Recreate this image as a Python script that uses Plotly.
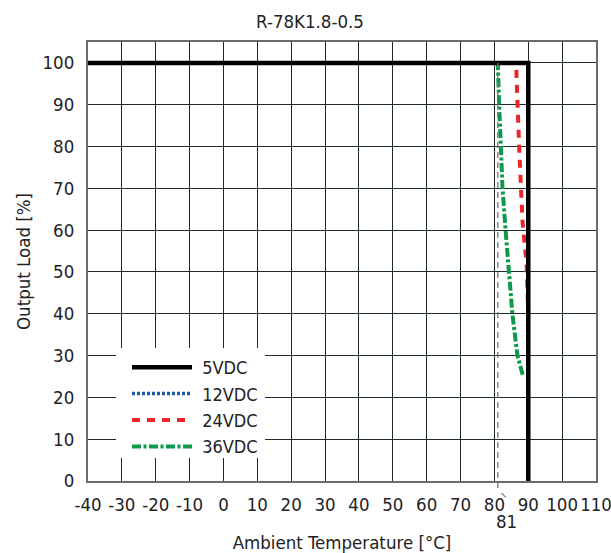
import plotly.graph_objects as go

# data
x_5v = [-40, 90, 90]
y_5v = [100, 100, 0]
x_12v = [-40, 90, 90]
y_12v = [100, 100, 0]
x_24v = [-40, 86.4, 87.3, 88.3, 89.5, 90]
y_24v = [100, 100, 80, 62, 52, 40]
x_36v = [-40, 81.0, 81.4, 81.8, 82.4, 83.3, 84.2, 85.3, 86.8, 88.5]
y_36v = [100, 100, 90, 80, 70, 60, 50, 40, 30, 25]
x_ticks = list(range(-40, 111, 10))
y_ticks = list(range(0, 101, 10))
derating_start = 81

FONT = "Liberation Sans Narrow, DejaVu Sans Condensed, Roboto Condensed, Arial Narrow, Liberation Sans, sans-serif"
GRID = "#1f2b2b"
W, H = 611, 553
L, R, T, B = 88, 15, 42, 72
PW, PH = W - L - R, H - T - B


def px_x(p):
    return (p - L) / PW


def px_y(p):
    return (H - B - p) / PH


fig = go.Figure()
fig.add_trace(go.Scatter(x=x_24v, y=y_24v, mode="lines", name="\u00a024VDC", legendrank=3, legendgroup="c",
                         line=dict(color="#e8262b", width=4, dash="8px,7px")))
fig.add_trace(go.Scatter(x=x_36v, y=y_36v, mode="lines", name="\u00a036VDC", legendrank=4, legendgroup="d",
                         line=dict(color="#0e9a4b", width=4, dash="9px,2.5px,3px,2.5px")))
fig.add_trace(go.Scatter(x=x_12v, y=y_12v, mode="lines", name="\u00a012VDC", legendrank=2, legendgroup="b",
                         line=dict(color="#1f5aa8", width=3.5, dash="3px,2px")))
fig.add_trace(go.Scatter(x=x_5v, y=y_5v, mode="lines", name="\u00a05VDC", legendrank=1, legendgroup="a",
                         line=dict(color="#000000", width=4.5)))

# legend background box
fig.add_shape(type="rect", xref="paper", yref="paper", layer="above",
              x0=px_x(116), x1=px_x(265), y0=px_y(458), y1=px_y(348),
              fillcolor="white", line=dict(width=0))
fig.add_shape(type="line", xref="x", yref="paper", x0=derating_start, x1=derating_start,
              y0=px_y(488), y1=100 / 105, line=dict(color="#777777", width=1.3, dash="6px,4px"))
fig.add_shape(type="line", xref="paper", yref="paper",
              x0=px_x(501.5), x1=px_x(506), y0=px_y(493), y1=px_y(497.5),
              line=dict(color="#333333", width=1))
fig.add_annotation(x=px_x(506), xref="paper", y=px_y(521), yref="paper", text="81", showarrow=False,
                   xanchor="center", yanchor="middle",
                   font=dict(size=18.5, color="#222222", family=FONT))
# y-axis title
fig.add_annotation(x=px_x(23), xref="paper", y=px_y(262), yref="paper", text="Output Load [%]",
                   showarrow=False, textangle=-90, xanchor="center", yanchor="middle",
                   font=dict(size=18.5, color="#222222", family=FONT))

fig.update_layout(
    width=W, height=H,
    margin=dict(l=L, r=R, t=T, b=B, autoexpand=False),
    paper_bgcolor="white", plot_bgcolor="white",
    font=dict(family=FONT, size=18.5, color="#222222"),
    title=dict(text="R-78K1.8-0.5", x=310 / W, xref="container", xanchor="center",
               y=1 - 22 / H, yref="container", yanchor="middle",
               font=dict(size=18.5, family=FONT, color="#222222")),
    showlegend=True,
    legend=dict(x=px_x(127), y=px_y(349), xanchor="left", yanchor="top",
                bgcolor="rgba(0,0,0,0)", borderwidth=0,
                font=dict(size=18, family=FONT, color="#222222"),
                itemwidth=60, tracegroupgap=0),
)
fig.update_xaxes(range=[-40, 110], tickvals=x_ticks, ticktext=[str(v) for v in x_ticks],
                 tickangle=0, automargin=False,
                 showgrid=True, gridcolor=GRID, gridwidth=1.4,
                 showline=True, linecolor="#6b6b6b", linewidth=2, mirror=True,
                 zeroline=False, ticks="", ticklabelstandoff=6, ticklabeloverflow="allow",
                 title=dict(text="Ambient Temperature [°C]", standoff=27,
                            font=dict(size=18.5, family=FONT)),
                 tickfont=dict(size=18.5, family=FONT))
fig.update_yaxes(range=[0, 105], tickvals=y_ticks, automargin=False,
                 showgrid=True, gridcolor=GRID, gridwidth=1.4,
                 showline=True, linecolor="#6b6b6b", linewidth=2, mirror=True,
                 zeroline=False, ticks="", ticklabelstandoff=8,
                 tickfont=dict(size=18.5, family=FONT))

fig.write_html("out.html", post_script="document.body.style.margin='0';",
               config={"displayModeBar": False})
